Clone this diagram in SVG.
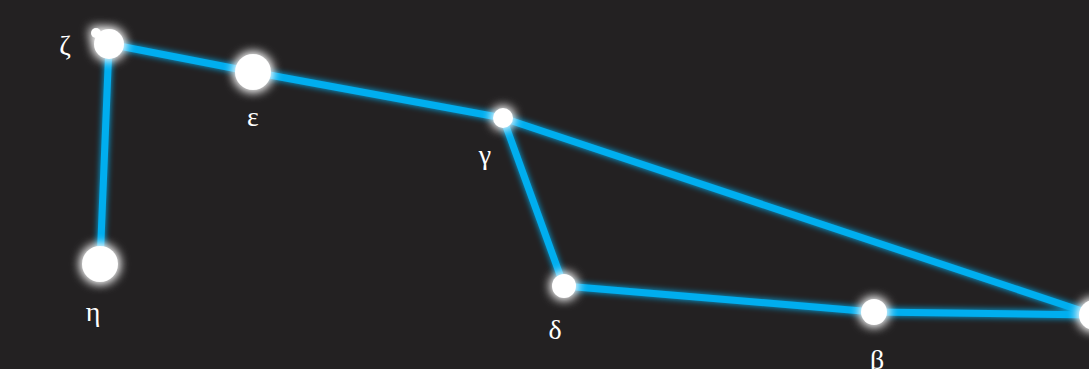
<svg xmlns="http://www.w3.org/2000/svg" width="1089" height="369" viewBox="0 0 1089 369">
<defs>
<filter id="glow" x="-50%" y="-50%" width="200%" height="200%">
<feGaussianBlur in="SourceGraphic" stdDeviation="3" result="b"/>
<feMerge><feMergeNode in="b"/><feMergeNode in="SourceGraphic"/></feMerge>
</filter>
<filter id="sglow" x="-100%" y="-100%" width="300%" height="300%">
<feGaussianBlur in="SourceGraphic" stdDeviation="6" result="b"/>
<feMerge><feMergeNode in="b"/><feMergeNode in="b"/><feMergeNode in="SourceGraphic"/></feMerge>
</filter>
<style>
.ln{stroke:#00aeef;stroke-width:7;fill:none;stroke-linecap:round}
.st{fill:#ffffff}
.lb{fill:#ffffff;font-family:"Liberation Serif","DejaVu Serif",serif;font-size:28px;text-anchor:middle}
</style>
</defs>
<rect width="1089" height="369" fill="#232122"/>
<g id="connectors" filter="url(#glow)">
<line class="ln" x1="109" y1="44" x2="253" y2="72"/>
<line class="ln" x1="253" y1="72" x2="503" y2="118"/>
<line class="ln" x1="503" y1="118" x2="564" y2="286"/>
<line class="ln" x1="564" y1="286" x2="874" y2="312"/>
<line class="ln" x1="874" y1="312" x2="1094" y2="315"/>
<line class="ln" x1="503" y1="118" x2="1094" y2="315"/>
<line class="ln" x1="109" y1="44" x2="100" y2="264"/>
</g>
<g id="zeta">
<g filter="url(#sglow)">
<circle class="st" cx="109" cy="44" r="15"/>
<circle class="st" cx="96" cy="33" r="5"/>
</g>
<text class="lb" x="65" y="55">ζ</text>
</g>
<g id="epsilon">
<circle class="st" cx="253" cy="72" r="18" filter="url(#sglow)"/>
<text class="lb" x="253" y="126">ε</text>
</g>
<g id="gamma">
<circle class="st" cx="503" cy="118" r="10" filter="url(#sglow)"/>
<text class="lb" x="485" y="164">γ</text>
</g>
<g id="delta">
<circle class="st" cx="564" cy="286" r="12" filter="url(#sglow)"/>
<text class="lb" x="555" y="339">δ</text>
</g>
<g id="beta">
<circle class="st" cx="874" cy="312" r="13" filter="url(#sglow)"/>
<text class="lb" x="877" y="369">β</text>
</g>
<g id="alpha">
<circle class="st" cx="1094" cy="315" r="15" filter="url(#sglow)"/>
<text class="lb" x="1092" y="382">α</text>
</g>
<g id="eta">
<circle class="st" cx="100" cy="264" r="18" filter="url(#sglow)"/>
<text class="lb" x="93" y="321">η</text>
</g>
</svg>
